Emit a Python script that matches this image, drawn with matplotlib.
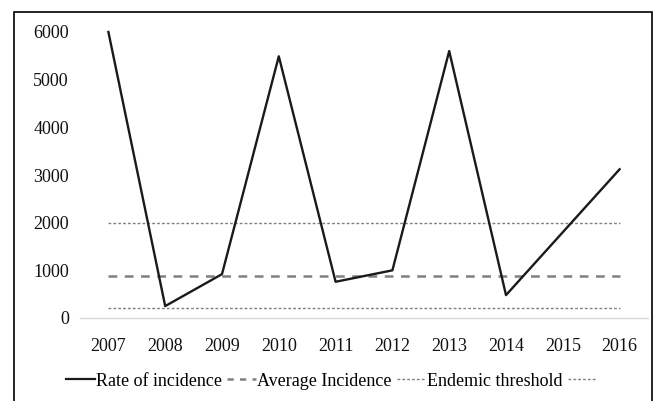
import matplotlib
matplotlib.use("Agg")
import matplotlib.pyplot as plt
from matplotlib.patches import Rectangle
from matplotlib.lines import Line2D

years = ["2007", "2008", "2009", "2010", "2011", "2012", "2013", "2014", "2015", "2016"]
incidence = [6000, 250, 920, 5490, 760, 1000, 5600, 480, 1800, 3120]
average_incidence = 880
threshold_upper = 1990
threshold_lower = 210

plt.rcParams['font.family'] = ['Liberation Serif', 'DejaVu Serif']

fig = plt.figure(figsize=(6.57, 4.01), dpi=100)
ax = fig.add_axes([80 / 657, 1 - 318 / 401, 568 / 657, 286 / 401])

x = list(range(len(years)))
ax.plot(x, incidence, color='#1a1a1a', lw=1.7, clip_on=False, zorder=5)
ax.plot([x[0], x[-1]], [average_incidence] * 2, color='#808080', lw=1.8,
        dashes=(3.5, 3))
ax.plot([x[0], x[-1]], [threshold_upper] * 2, color='#808080', lw=1.0,
        dashes=(2, 1.5))
ax.plot([x[0], x[-1]], [threshold_lower] * 2, color='#808080', lw=1.0,
        dashes=(2, 1.5))

ax.set_xlim(-0.5, len(years) - 0.5)
ax.set_ylim(0, 6000)
ax.set_yticks([0, 1000, 2000, 3000, 4000, 5000, 6000])
ax.set_xticks(x)
ax.set_xticklabels(years)
ax.tick_params(length=0, labelsize=13, colors='#111111')
ax.tick_params(axis='x', pad=14.5)
ax.tick_params(axis='y', pad=8)
for s in ['top', 'right', 'left']:
    ax.spines[s].set_visible(False)
ax.spines['bottom'].set_color('#d9d9d9')
ax.spines['bottom'].set_linewidth(1.0)

handles = [
    Line2D([], [], color='#1a1a1a', lw=1.6),
    Line2D([], [], color='#808080', lw=1.8, dashes=(2.5, 2.5)),
    Line2D([], [], color='#808080', lw=1.0, dashes=(2, 1.5)),
    Line2D([], [], color='#808080', lw=1.0, dashes=(2, 1.5)),
]
labels = ["Rate of incidence", "Average Incidence", "Endemic threshold", ""]
fig.legend(handles, labels, ncol=4, frameon=False, loc='center',
           bbox_to_anchor=(0.505, 1 - 381 / 401), fontsize=13,
           handlelength=1.6, handletextpad=0.05, columnspacing=0.3)

fig.patches.append(Rectangle((14 / 657, -0.05), (652 - 14) / 657, 1.05 - 12 / 401,
                             transform=fig.transFigure, fill=False,
                             edgecolor='black', lw=1.2))

fig.savefig("out.png", dpi=100)
